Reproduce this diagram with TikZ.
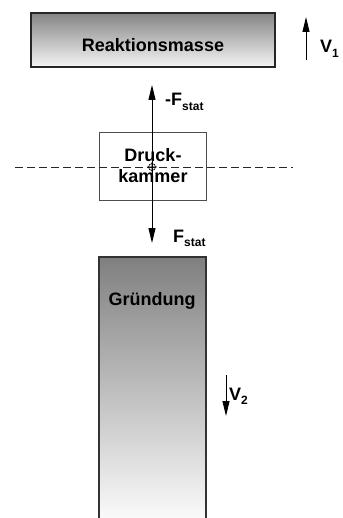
\documentclass[tikz,border=0pt]{standalone}
\usepackage{fontspec}
\setmainfont{Liberation Sans}
\usetikzlibrary{arrows.meta}
\newcommand{\lowidx}[1]{\raisebox{-0.45ex}{\fontsize{12}{12}\selectfont #1}}
\tikzset{
  lbl/.style={font=\fontsize{18}{20}\selectfont\bfseries,inner sep=0pt},
  force/.style={line width=1pt,-{Triangle[length=15pt,width=7pt]}},
}
\begin{document}
\begin{tikzpicture}[x=1pt,y=-1pt]
\useasboundingbox (0,0) rectangle (342,518);
\coordinate (C) at (152,167);
% Reaktionsmasse
\shade[top color=black!48,bottom color=black!4] (31,13) rectangle (275,67);
\draw[line width=1.2pt,black!85] (31,13) rectangle (275,67);
\node[lbl,anchor=base] (masse) at (153,52) {Reaktionsmasse};
\coordinate (v1a) at (306,60);\coordinate (v1b) at (306,17);
\draw[force] (v1a)--(v1b);
\node[lbl,anchor=base west] (v1) at (320,53) {V\lowidx{1}};
% Druckkammer
\draw[line width=1pt,black!70,fill=white] (99,133) rectangle (206,201);
\draw[black!85,line width=0.9pt,dash pattern=on 8pt off 4pt] (15,167)--(293,167);
\node[lbl,anchor=base] (druck) at (153,162) {Druck-};
\node[lbl,anchor=base] (kammer) at (153,183) {kammer};
\coordinate (fa) at (152,85);\coordinate (fb) at (152,243);
\draw[force] (C)--(fa);
\draw[force] (C)--(fb);
\draw[line width=0.6pt] (C) circle (3.5) (147,167)--(157,167) (152,162)--(152,172);
\node[lbl,anchor=base west] (fo) at (165,106) {-F\lowidx{stat}};
\node[lbl,anchor=base west] (fu) at (173,242) {F\lowidx{stat}};
% Gruendung
\shade[top color=black!50,bottom color=black!2] (99,257) rectangle (206,518);
\draw[line width=1.2pt,black!80] (99,518)--(99,257)--(206,257)--(206,518);
\node[lbl,anchor=base] (grund) at (152,305) {Gründung};
\coordinate (v2a) at (226,375);\coordinate (v2b) at (226,416);
\draw[force] (v2a)--(v2b);
\node[lbl,anchor=base west] (v2) at (229,400) {V\lowidx{2}};
\end{tikzpicture}
\end{document}
